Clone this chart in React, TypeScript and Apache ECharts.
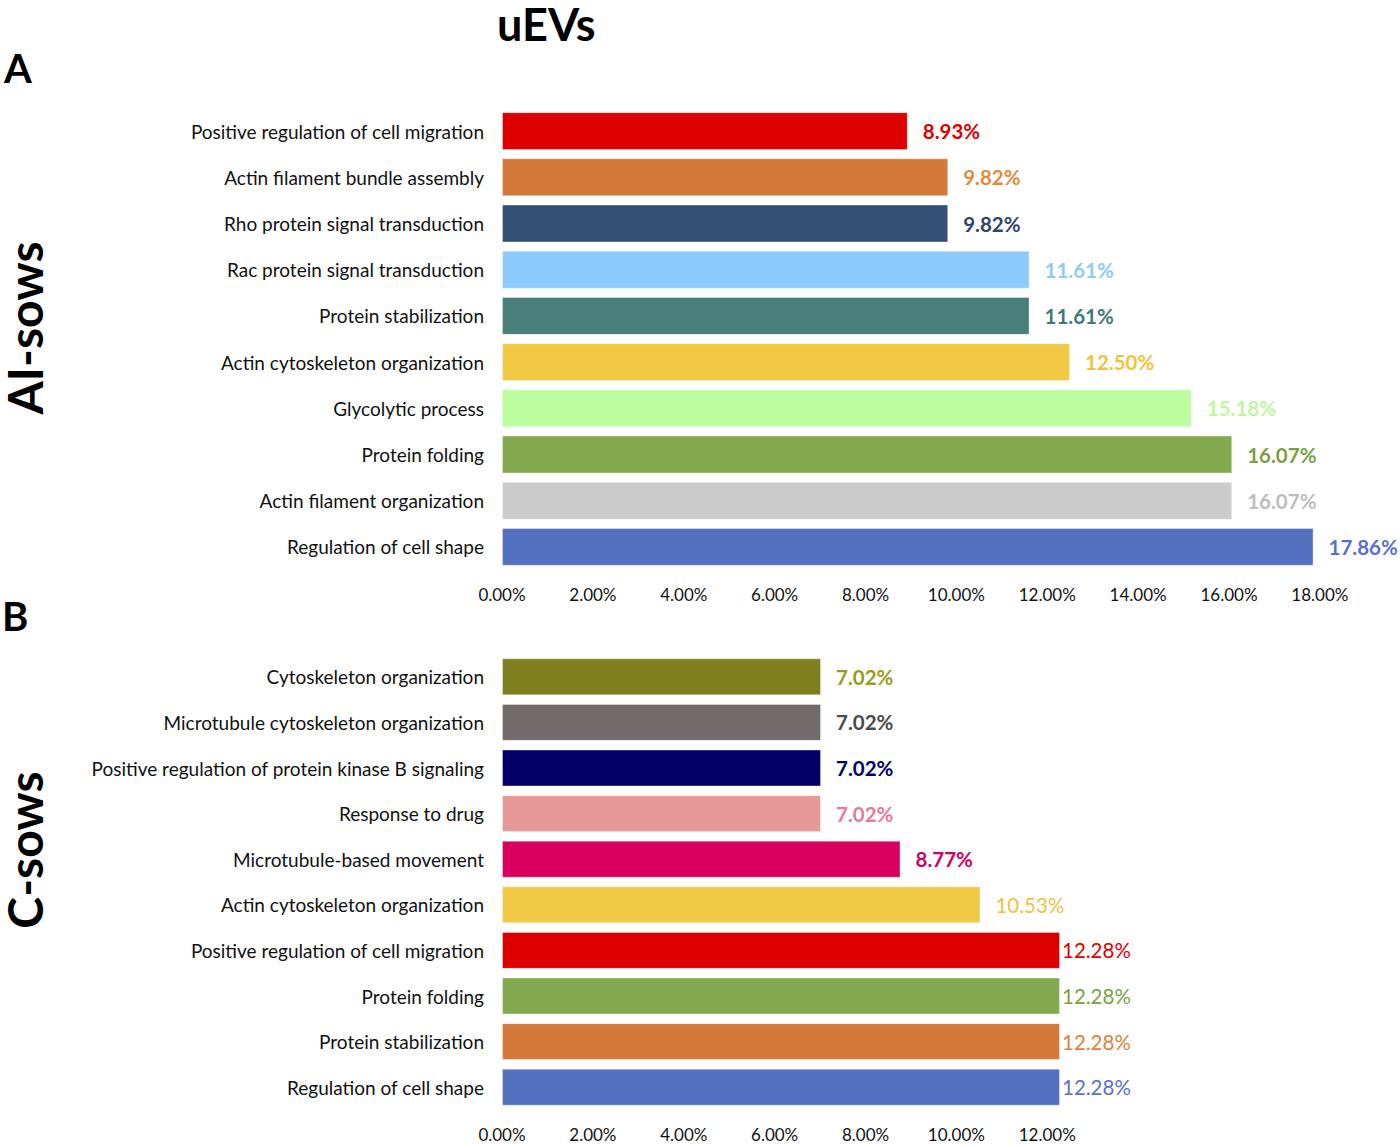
import * as echarts from "echarts";
import { useEffect, useRef } from "react";

const categoriesA = [
	"Positive regulation of cell migration",
	"Actin filament bundle assembly",
	"Rho protein signal transduction",
	"Rac protein signal transduction",
	"Protein stabilization",
	"Actin cytoskeleton organization",
	"Glycolytic process",
	"Protein folding",
	"Actin filament organization",
	"Regulation of cell shape",
];
const valuesA = [8.93, 9.82, 9.82, 11.61, 11.61, 12.5, 15.18, 16.07, 16.07, 17.86];

const categoriesB = [
	"Cytoskeleton organization",
	"Microtubule cytoskeleton organization",
	"Positive regulation of protein kinase B signaling",
	"Response to drug",
	"Microtubule-based movement",
	"Actin cytoskeleton organization",
	"Positive regulation of cell migration",
	"Protein folding",
	"Protein stabilization",
	"Regulation of cell shape",
];
const valuesB = [7.02, 7.02, 7.02, 7.02, 8.77, 10.53, 12.28, 12.28, 12.28, 12.28];

// bar fill / label colours
const barColorsA = ["#dc0000", "#d4793a", "#344f74", "#8ccbfb", "#487f7b", "#f2c945", "#bcfe9f", "#84aa4f", "#cccccc", "#5470c0"];
const labelColorsA = ["#e00000", "#e08a3c", "#2f4667", "#8ecbfb", "#3f7a78", "#f2c23c", "#bff5a3", "#7aa042", "#bdbdbd", "#5a6fd0"];
const barColorsB = ["#7f7f1f", "#716c6b", "#000066", "#e79898", "#d90060", "#f1ca45", "#dc0000", "#84aa4f", "#d4793a", "#5470c0"];
const labelColorsB = ["#9a9a1c", "#4a4a4a", "#000066", "#e8799b", "#d10064", "#f2c23c", "#e00000", "#7aa042", "#e08040", "#5a6fd0"];

const PX_PER_PCT = 45.44;
const FONT = "Lato";

function barData(values: number[], fills: string[], labels: string[], tight: boolean) {
	return values.map((v, i) => {
		const hugs = tight && v >= 12;
		return {
			value: v,
			itemStyle: { color: fills[i], borderColor: "rgba(255,255,255,0.35)", borderWidth: 1 },
			label: {
				color: labels[i],
				distance: hugs ? 2 : 15,
				fontWeight: tight && v > 10 ? "normal" : "bold",
			},
		};
	});
}

export default function App() {
	const chartRef = useRef<HTMLDivElement>(null);

	useEffect(() => {
		if (!chartRef.current) return;
		const chart = echarts.init(chartRef.current, undefined, { renderer: "svg" });
		const pctLabel = (v: number) => (Math.abs(v % 2) < 1e-6 ? v.toFixed(2) + "%" : "");
		const xAxisBase = {
			type: "value" as const,
			min: 0,
			interval: 2,
			axisLine: { show: false },
			axisTick: { show: false },
			splitLine: { show: false },
			axisLabel: { formatter: pctLabel, fontFamily: FONT, fontSize: 17, color: "#111", margin: 16 },
		};
		const yAxisBase = {
			type: "category" as const,
			inverse: true,
			axisLine: { show: false },
			axisTick: { show: false },
			axisLabel: { fontFamily: FONT, fontSize: 19, color: "#111", margin: 18 },
		};
		const labelBase = {
			show: true,
			position: "right" as const,
			fontFamily: FONT,
			fontSize: 20.5,
			formatter: (p: any) => Number(p.value).toFixed(2) + "%",
		};
		const heading = (text: string, size: number) => ({
			text,
			fontFamily: FONT,
			fontWeight: "bold",
			fontSize: size,
			fill: "#000",
		});
		chart.setOption({
			animation: false,
			grid: [
				{ left: 502, top: 108, width: 18 * PX_PER_PCT, height: 462 },
				{ left: 502, top: 654, width: 12.28 * PX_PER_PCT, height: 456 },
			],
			xAxis: [
				{ ...xAxisBase, gridIndex: 0, max: 18 },
				{ ...xAxisBase, gridIndex: 1, max: 12.28 },
			],
			yAxis: [
				{ ...yAxisBase, gridIndex: 0, data: categoriesA },
				{ ...yAxisBase, gridIndex: 1, data: categoriesB },
			],
			series: [
				{
					type: "bar",
					xAxisIndex: 0,
					yAxisIndex: 0,
					barCategoryGap: "18%",
					label: labelBase,
					data: barData(valuesA, barColorsA, labelColorsA, false),
				},
				{
					type: "bar",
					xAxisIndex: 1,
					yAxisIndex: 1,
					barCategoryGap: "19%",
					label: labelBase,
					data: barData(valuesB, barColorsB, labelColorsB, true),
				},
			],
			graphic: [
				{ type: "text", left: 497, top: 1, style: heading("uEVs", 45) },
				{ type: "text", left: 4, top: 48, style: heading("A", 40) },
				{ type: "text", left: 2, top: 596, style: heading("B", 40) },
				{
					type: "text",
					x: 24,
					y: 328,
					rotation: Math.PI / 2,
					style: { ...heading("AI-sows", 48), align: "center", verticalAlign: "middle" },
				},
				{
					type: "text",
					x: 24,
					y: 850,
					rotation: Math.PI / 2,
					style: { ...heading("C-sows", 48), align: "center", verticalAlign: "middle" },
				},
			],
		});

		return () => {
			chart.dispose();
		};
	}, []);

	return (
		<div
			ref={chartRef}
			style={{ position: "absolute", left: 0, top: 0, width: 1400, height: 1146, background: "#fff" }}
		/>
	);
}
